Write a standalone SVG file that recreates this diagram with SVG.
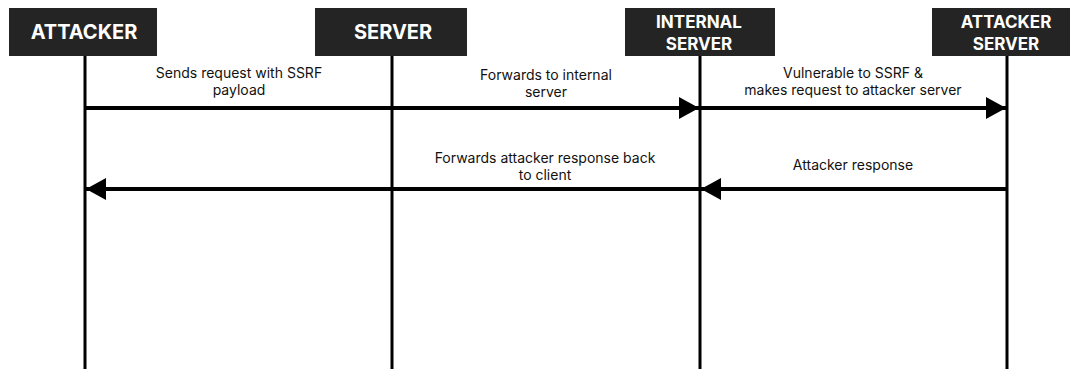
<svg xmlns="http://www.w3.org/2000/svg" width="1070" height="369" viewBox="0 0 1070 369">
<style>
.box{fill:#242424}
.hd{font-family:Inter,"Liberation Sans",sans-serif;font-weight:700;font-size:20px;fill:#fff;text-anchor:middle}
.hd2{font-family:Inter,"Liberation Sans",sans-serif;font-weight:700;font-size:17px;fill:#fff;text-anchor:middle}
.life{stroke:#000;stroke-width:3;fill:none}
.msg{stroke:#000;stroke-width:4;fill:none}
.lbl{font-family:Inter,"Liberation Sans",sans-serif;font-size:14px;fill:#111;text-anchor:middle}
</style>
<defs>
<marker id="ah" markerWidth="20" markerHeight="22" refX="20" refY="11" orient="auto" markerUnits="userSpaceOnUse">
<path d="M0,0 L20,11 L0,22 Z" fill="#000"/>
</marker>
</defs>
<rect width="1070" height="369" fill="#fff"/>
<g id="connectors">
<line class="life" x1="85" y1="56" x2="85" y2="369"/>
<line class="life" x1="392" y1="56" x2="392" y2="369"/>
<line class="life" x1="700" y1="56" x2="700" y2="369"/>
<line class="life" x1="1007" y1="56" x2="1007" y2="369"/>
<line class="msg" x1="85" y1="108" x2="699" y2="108" marker-end="url(#ah)"/>
<line class="msg" x1="700" y1="108" x2="1006" y2="108" marker-end="url(#ah)"/>
<line class="msg" x1="1007" y1="189" x2="701" y2="189" marker-end="url(#ah)"/>
<line class="msg" x1="700" y1="189" x2="86" y2="189" marker-end="url(#ah)"/>
<text class="lbl" x="239" y="78">Sends request with SSRF</text>
<text class="lbl" x="239" y="95">payload</text>
<text class="lbl" x="546" y="80">Forwards to internal</text>
<text class="lbl" x="546" y="97">server</text>
<text class="lbl" x="853" y="78">Vulnerable to SSRF &amp;</text>
<text class="lbl" x="853" y="95">makes request to attacker server</text>
<text class="lbl" x="545" y="163">Forwards attacker response back</text>
<text class="lbl" x="545" y="180">to client</text>
<text class="lbl" x="853" y="170">Attacker response</text>
</g>
<g id="attacker">
<rect class="box" x="9" y="8" width="148" height="48"/>
<text class="hd" x="84" y="39">ATTACKER</text>
</g>
<g id="server">
<rect class="box" x="315" y="8" width="152" height="48"/>
<text class="hd" x="393" y="39">SERVER</text>
</g>
<g id="internal-server">
<rect class="box" x="625" y="8" width="150" height="48"/>
<text class="hd2" x="699" y="28">INTERNAL</text>
<text class="hd2" x="699" y="50">SERVER</text>
</g>
<g id="attacker-server">
<rect class="box" x="932" y="8" width="138" height="48"/>
<text class="hd2" x="1006" y="28">ATTACKER</text>
<text class="hd2" x="1006" y="50">SERVER</text>
</g>
</svg>
